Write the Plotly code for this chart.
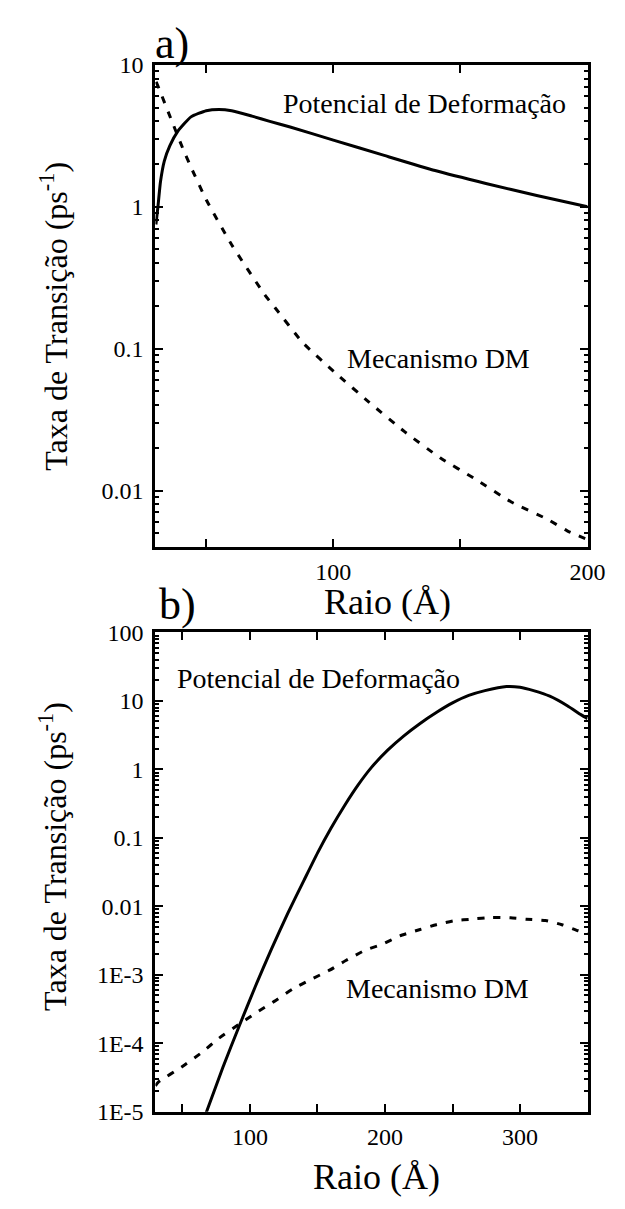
import plotly.graph_objects as go

# ---------- data ----------
# Panel a)
a_pot_x = [30.2, 31.0, 32.0, 33.5, 35.7, 38.8, 44.0, 50.0, 55.0, 60.0, 68.0, 75.0, 83.0, 100.0, 120.0, 140.0, 160.0, 180.0, 200.0]
a_pot_y = [0.75, 1.0, 1.5, 2.1, 2.7, 3.4, 4.3, 4.75, 4.85, 4.75, 4.35, 4.0, 3.65, 2.95, 2.3, 1.8, 1.46, 1.2, 1.0]

a_dm_x = [30.3, 31.0, 36.5, 40.7, 44.0, 50.0, 60.0, 73.0, 77.0, 88.0, 101.0, 114.0, 128.0, 142.0, 156.0, 170.0, 184.0, 192.0, 200.0]
a_dm_y = [7.6, 7.1, 4.0, 2.6, 1.9, 1.12, 0.54, 0.24, 0.195, 0.11, 0.067, 0.042, 0.026, 0.017, 0.012, 0.0083, 0.0063, 0.0052, 0.0045]

# Panel b)
b_pot_x = [67.0, 80.0, 92.0, 104.0, 116.0, 128.0, 140.0, 150.0, 160.0, 170.0, 180.0, 190.0, 202.0, 214.0, 226.0, 238.0, 250.0, 262.0, 274.0, 290.0, 300.0, 310.0, 322.0, 335.0, 345.0, 350.0]
b_pot_y = [9e-6, 4.47e-5, 1.78e-4, 6.76e-4, 2.4e-3, 7.9e-3, 0.024, 0.06, 0.138, 0.295, 0.589, 1.07, 1.91, 3.09, 4.68, 6.76, 9.33, 12.0, 14.1, 16.2, 15.8, 14.1, 11.7, 8.5, 6.3, 5.5]

b_dm_x = [30.0, 32.0, 50.0, 64.5, 76.6, 92.0, 104.0, 118.0, 131.6, 144.7, 159.0, 171.0, 185.5, 197.0, 211.0, 226.0, 238.0, 252.0, 264.0, 279.0, 293.0, 304.5, 319.0, 331.0, 343.0, 350.0]
b_dm_y = [2.4e-5, 2.7e-5, 4.6e-5, 7.4e-5, 1.17e-4, 1.9e-4, 2.75e-4, 4.1e-4, 6.2e-4, 8.5e-4, 1.17e-3, 1.62e-3, 2.3e-3, 2.75e-3, 3.7e-3, 4.6e-3, 5.4e-3, 6.2e-3, 6.5e-3, 6.9e-3, 6.8e-3, 6.5e-3, 6.2e-3, 5.4e-3, 4.4e-3, 4.0e-3]

# tick labels
a_xticks = [50, 100, 150, 200]
a_xtext = ["", "100", "", "200"]
a_yticks = [0.01, 0.1, 1, 10]
a_ytext = ["0.01", "0.1", "1", "10"]
b_xticks = [50, 100, 150, 200, 250, 300, 350]
b_xtext = ["", "100", "", "200", "", "300", ""]
b_yticks = [1e-5, 1e-4, 1e-3, 0.01, 0.1, 1, 10, 100]
b_ytext = ["1E-5", "1E-4", "1E-3", "0.01", "0.1", "1", "10", "100"]

label_pot = "Potencial de Deformação"
label_dm = "Mecanismo DM"
x_title = "Raio (Å)"
y_title = "Taxa de Transição (ps<sup>-1</sup>)"

# ---------- figure ----------
W, H = 625, 1209
FONT = "Liberation Serif"

def px_x(p):
    return p / W

def px_y(p):
    return 1 - p / H

fig = go.Figure()

solid = dict(color="black", width=3, shape="spline", smoothing=0.5)
dashed = dict(color="black", width=3, dash="7px,9px", shape="spline", smoothing=0.5)

fig.add_trace(go.Scatter(x=a_pot_x, y=a_pot_y, mode="lines", line=solid, xaxis="x", yaxis="y", showlegend=False))
fig.add_trace(go.Scatter(x=a_dm_x, y=a_dm_y, mode="lines", line=dashed, xaxis="x", yaxis="y", showlegend=False))
fig.add_trace(go.Scatter(x=b_pot_x, y=b_pot_y, mode="lines", line=solid, xaxis="x2", yaxis="y2", showlegend=False))
fig.add_trace(go.Scatter(x=b_dm_x, y=b_dm_y, mode="lines", line=dashed, xaxis="x2", yaxis="y2", showlegend=False))

def minor_log(e0, e1):
    return [m * 10.0 ** e for e in range(e0, e1) for m in range(2, 10)]

common_ax = dict(
    showline=True, linecolor="black", linewidth=3, mirror="ticks",
    ticks="inside", ticklen=8, tickwidth=2, tickcolor="black",
    showgrid=False, zeroline=False,
    tickfont=dict(family=FONT, size=24, color="black"),
)

xdom = [px_x(160), px_x(605)]
fig.update_layout(
    width=W, height=H,
    margin=dict(l=0, r=0, t=0, b=0),
    paper_bgcolor="white", plot_bgcolor="white",
    showlegend=False,
    font=dict(family=FONT, color="black"),
    xaxis=dict(domain=xdom, anchor="y", range=[30, 200], tickmode="array",
               tickvals=a_xticks, ticktext=a_xtext, ticklabelstandoff=1, **common_ax),
    yaxis=dict(domain=[px_y(546), px_y(53)], anchor="x", type="log",
               range=[-2.4, 1], tickmode="array", tickvals=a_yticks, ticktext=a_ytext,
               ticklabelstandoff=4,
               minor=dict(ticks="inside", ticklen=4, tickwidth=2, tickcolor="black",
                          tickmode="array", tickvals=minor_log(-3, 1)),
               **common_ax),
    xaxis2=dict(domain=xdom, anchor="y2", range=[30, 350], tickmode="array",
                tickvals=b_xticks, ticktext=b_xtext, ticklabelstandoff=1, **common_ax),
    yaxis2=dict(domain=[px_y(1123), px_y(633)], anchor="x2", type="log",
                range=[-5, 2], tickmode="array", tickvals=b_yticks, ticktext=b_ytext,
                ticklabelstandoff=4,
                minor=dict(ticks="inside", ticklen=4, tickwidth=2, tickcolor="black",
                           tickmode="array", tickvals=minor_log(-5, 2)),
                **common_ax),
)

def ann(text, x, y, size, angle=0):
    fig.add_annotation(text=text, x=px_x(x), y=px_y(y), xref="paper", yref="paper",
                       showarrow=False, xanchor="center", yanchor="middle", textangle=angle,
                       font=dict(family=FONT, size=size, color="black"))

# panel labels
ann("a)", 177, 31, 44)
ann("b)", 183, 604, 44)
# axis titles
ann(x_title, 399, 602, 36)
ann(x_title, 388, 1190, 36)
ann(y_title, 56, 310, 32, -90)
ann(y_title, 55, 862, 32, -90)
# curve labels
ann(label_pot, 437, 93, 28)
ann(label_dm, 451, 353, 28)
ann(label_pot, 328, 680, 28)
ann(label_dm, 450, 997, 28)

fig.write_html("out.html")
